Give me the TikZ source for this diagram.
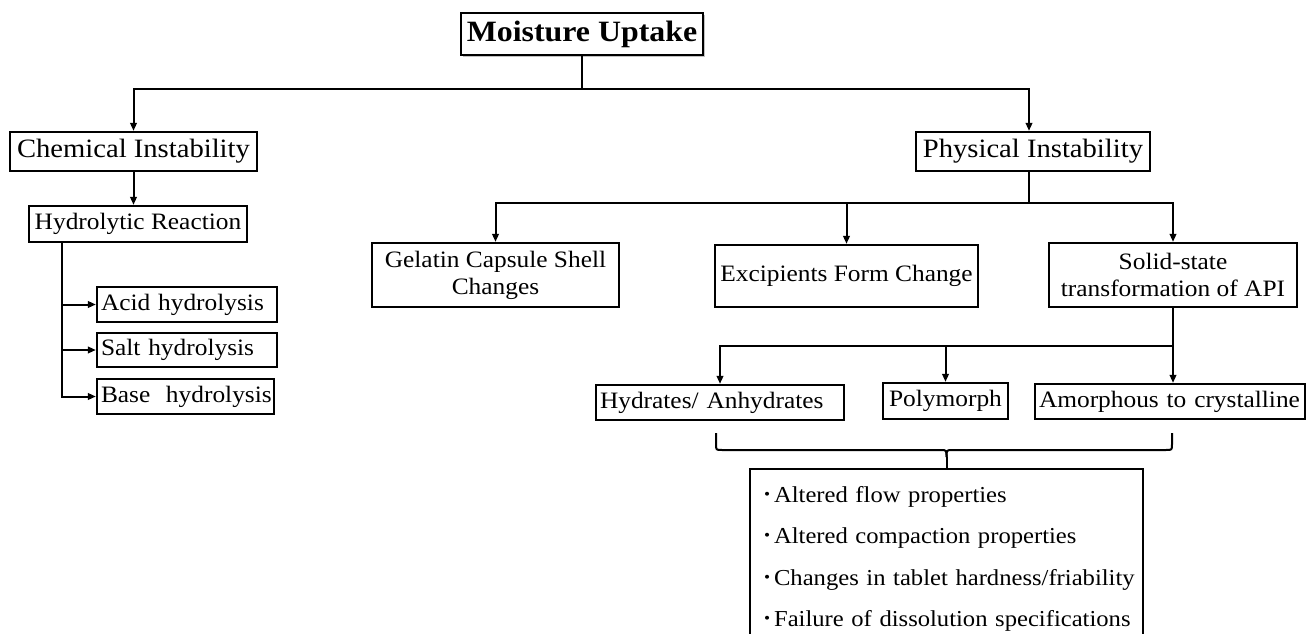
\documentclass[tikz,border=0pt]{standalone}
\usepackage{fontspec}
\setmainfont{Liberation Serif}[FakeStretch=1.08]
\usetikzlibrary{arrows.meta,shadows}
\newcommand\bul{\raisebox{3pt}{\fontsize{16}{16}\selectfont\textbullet}\hspace{4pt}}
\begin{document}
\begin{tikzpicture}[x=1pt,y=-1pt,
  bx/.style={draw, line width=2.2pt, inner sep=0pt, align=center, font=\fontsize{23.5}{27}\selectfont},
  lbx/.style={bx, align=left, inner xsep=4pt},
  topbx/.style={bx, font=\fontsize{26.5}{30}\selectfont},
  ln/.style={line width=2pt},
  arr/.style={ln, -{Triangle[length=8pt,width=6.5pt]}},
]
\clip (0,0) rectangle (1306,634);
\fill[white] (0,0) rectangle (1306,634);

% nodes
\node[bx, fill=white, font=\fontsize{29.5}{32}\selectfont\bfseries, minimum width=242pt, minimum height=42pt,
      drop shadow={shadow xshift=2pt, shadow yshift=-2pt, fill=black!40, opacity=0.6}] (root) at (582,34) {Moisture Uptake};
\node[topbx, minimum width=247pt, minimum height=39pt] (chem) at (133.5,151.5) {Chemical Instability};
\node[topbx, minimum width=234pt, minimum height=39pt] (phys) at (1033,151.5) {Physical Instability};
\node[bx, minimum width=218pt, minimum height=36pt] (hyd) at (138,224) {Hydrolytic Reaction};
\node[lbx, text width=172pt, minimum height=35pt] (acid) at (187,304.5) {\mbox{Acid hydrolysis}};
\node[lbx, text width=172pt, minimum height=34pt] (salt) at (187,350) {\mbox{Salt hydrolysis}};
\node[lbx, text width=169pt, minimum height=35pt] (base) at (185.5,396.5) {\mbox{Base\ \ hydrolysis}};
\node[bx, minimum width=247pt, minimum height=64pt] (gel) at (495.5,275) {Gelatin Capsule Shell\\Changes};
\node[bx, minimum width=263pt, minimum height=62pt] (exc) at (846.5,276) {Excipients Form Change};
\node[bx, minimum width=248pt, minimum height=64pt] (sol) at (1173,275) {Solid-state\\transformation of API};
\node[lbx, text width=240pt, minimum height=35pt] (hydr) at (720,402.5) {\mbox{Hydrates/ Anhydrates}};
\node[bx, minimum width=125pt, minimum height=36pt] (poly) at (945.5,401) {Polymorph};
\node[lbx, text width=262pt, minimum height=35pt] (amor) at (1170,401.5) {\mbox{Amorphous to crystalline}};
\node[bx, anchor=north, align=left, text width=365pt, inner xsep=14pt, inner ysep=17pt,
      font=\fontsize{22.8}{41.5}\selectfont] (bot) at (946.5,468)
  {\mbox{\bul Altered flow properties}\\\mbox{\bul Altered compaction properties}\\\mbox{\bul Changes in tablet hardness/friability}\\\mbox{\bul Failure of dissolution specifications}};

% connectors
\coordinate (j1) at (582,89);
\draw[ln] (root.south) -- (j1);
\draw[arr] (j1) -| (chem.north);
\coordinate (p2n) at ([xshift=-4pt]phys.north);
\draw[arr] (j1) -| (p2n);
\draw[arr] (chem.south) -- (chem.south |- hyd.north);

\coordinate (h0) at ([xshift=34pt]hyd.south west);
\draw[arr] (h0) |- (base.west);
\draw[arr] (h0 |- acid.west) -- (acid.west);
\draw[arr] (h0 |- salt.west) -- (salt.west);

\coordinate (p2s) at ([xshift=-4pt]phys.south);
\coordinate (j2) at (1029,203);
\draw[ln] (p2s) -- (j2);
\draw[arr] (j2) -| (gel.north);
\draw[arr] (j2) -| (sol.north);
\draw[arr] (j2 -| exc.north) -- (exc.north);

\coordinate (j3) at (1173,346);
\draw[arr] (sol.south) -- (sol.south |- amor.north);
\draw[arr] (j3) -| (hydr.north);
\draw[arr] (j3 -| poly.north) -- (poly.north);

% brace
\coordinate (bl) at (716,433);
\coordinate (br) at (1172,433);
\coordinate (bc) at (946.5,457);
\draw[ln] (bl) -- (716,444) .. controls (716,450) .. (722,450) -- (940.5,450) .. controls (946.5,450) .. (bc);
\draw[ln] (bc) .. controls (946.5,450) .. (952.5,450) -- (1166,450) .. controls (1172,450) .. (1172,444) -- (br);
\draw[ln] (bc) -- (bot.north);
\end{tikzpicture}
\end{document}
